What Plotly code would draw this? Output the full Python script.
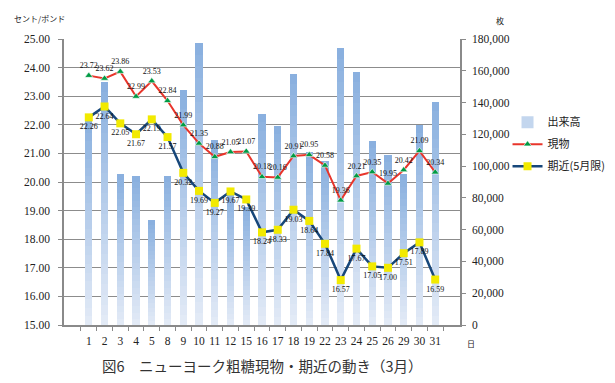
import plotly.graph_objects as go

days = ["1", "2", "3", "4", "5", "8", "9", "10", "11", "12", "15", "16", "17", "18", "19",
        "22", "23", "24", "25", "26", "29", "30", "31"]
volume = [132000, 153000, 95000, 94000, 66000, 94000, 148000, 177500, 116500, 85000, 74500,
          133000, 125500, 158000, 109000, 103500, 174500, 159500, 116000, 107000, 95000,
          126000, 140500]
spot = [23.72, 23.62, 23.86, 22.99, 23.53, 22.84, 21.99, 21.35, 20.88, 21.05, 21.07, 20.18,
        20.16, 20.91, 20.95, 20.58, 19.36, 20.21, 20.35, 19.95, 20.42, 21.09, 20.34]
nearby = [22.26, 22.64, 22.05, 21.67, 22.19, 21.57, 20.32, 19.69, 19.27, 19.67, 19.39, 18.24,
          18.33, 19.03, 18.64, 17.84, 16.57, 17.67, 17.05, 17.00, 17.51, 17.89, 16.59]

SERIF = "'Liberation Serif', 'DejaVu Serif', serif"
JP = "'Noto Sans CJK JP', sans-serif"

fig = go.Figure()

# gradient bars: stack N segments per bar, light at bottom, darker at top
N = 24
bottom_rgb = (226, 234, 246)
top_rgb = (138, 176, 223)
for k in range(N):
    t = k / (N - 1)
    c = tuple(round(bottom_rgb[i] + (top_rgb[i] - bottom_rgb[i]) * t) for i in range(3))
    fig.add_trace(go.Bar(
        x=days, y=[v / N for v in volume], yaxis="y",
        marker=dict(color="rgb(%d,%d,%d)" % c, line=dict(width=0)),
        name="出来高", legendgroup="vol", showlegend=(k == N // 3),
        legendrank=1, hoverinfo="skip"))

fig.add_trace(go.Scatter(
    x=days, y=spot, yaxis="y2", mode="lines+markers+text", name="現物",
    line=dict(color="#E8352B", width=2),
    marker=dict(symbol="triangle-up", size=7, color="#009A44",
                line=dict(color="white", width=0.6)),
    text=["%.2f" % v for v in spot], textposition="top center",
    textfont=dict(family=SERIF, size=8, color="#111"),
    legendgroup="spot", legendrank=2))

fig.add_trace(go.Scatter(
    x=days, y=nearby, yaxis="y2", mode="lines+markers+text", name="期近(5月限)",
    line=dict(color="#17477A", width=2.5),
    marker=dict(symbol="square", size=8, color="#F2EA00",
                line=dict(color="#F2EA00", width=0)),
    text=["%.2f" % v for v in nearby], textposition="bottom center",
    textfont=dict(family=SERIF, size=8, color="#111"),
    legendgroup="near", legendrank=3))

fig.update_layout(
    width=615, height=383,
    margin=dict(l=56, r=147, t=31, b=66),
    paper_bgcolor="white", plot_bgcolor="white",
    barmode="stack", bargap=0.55,
    showlegend=True,
    legend=dict(x=1.12, xanchor="left", y=0.76, yanchor="top",
                font=dict(family=JP, size=11, color="#222"),
                traceorder="grouped", tracegroupgap=3, itemwidth=30,
                bgcolor="rgba(0,0,0,0)"),
    xaxis=dict(type="category", categoryorder="array", categoryarray=days,
               showline=True, linecolor="#8a8a8a", linewidth=1.5,
               ticks="outside", tickson="boundaries", ticklen=4, tickcolor="#8a8a8a",
               tickfont=dict(family=SERIF, size=11.5, color="#222"), tickangle=0,
               ticklabelstandoff=4, showgrid=False, fixedrange=True),
    yaxis=dict(side="right", range=[0, 180000], dtick=20000, tickformat=",d",
               showline=True, linecolor="#8a8a8a", linewidth=1.5,
               ticks="outside", ticklen=4, tickcolor="#8a8a8a",
               tickfont=dict(family=SERIF, size=11.5, color="#222"),
               showgrid=False, zeroline=False,
               minor=dict(dtick=18000, tick0=0, showgrid=True, gridcolor="#8c8c8c",
                          gridwidth=1.3, ticks=""),
               ticklabelstandoff=4),
    yaxis2=dict(side="left", overlaying="y", range=[15, 25], dtick=1, tickformat=".2f",
                showline=True, linecolor="#8a8a8a", linewidth=1.5,
                ticks="outside", ticklen=4, tickcolor="#8a8a8a",
                tickfont=dict(family=SERIF, size=11.5, color="#222"),
                showgrid=False, zeroline=False, ticklabelstandoff=6),
    annotations=[
        dict(text="図6　ニューヨーク粗糖現物・期近の動き（3月）", x=0.5, y=-0.14,
             xref="paper", yref="paper", xanchor="center", yanchor="middle",
             showarrow=False, font=dict(family=JP, size=14.5, color="#333")),
        dict(text="日", x=1.029, y=-0.063, xref="paper", yref="paper",
             xanchor="center", yanchor="middle", showarrow=False,
             font=dict(family=JP, size=8, color="#222")),
        dict(text="セント/ポンド", x=-0.061, y=1.073, xref="paper", yref="paper",
             xanchor="center", yanchor="middle", showarrow=False,
             font=dict(family=JP, size=8, color="#222")),
        dict(text="枚", x=1.1, y=1.066, xref="paper", yref="paper",
             xanchor="center", yanchor="middle", showarrow=False,
             font=dict(family=JP, size=8, color="#222")),
    ],
)

fig.write_html("out.html")
